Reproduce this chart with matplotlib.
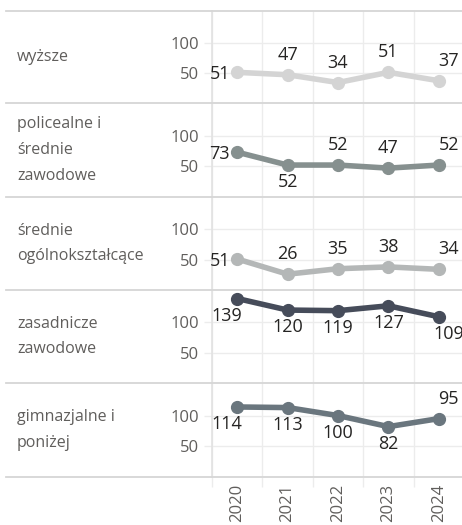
import matplotlib.pyplot as plt
from matplotlib.lines import Line2D
import numpy as np

plt.rcParams['font.family'] = ['Open Sans', 'DejaVu Sans']

years = ['2020', '2021', '2022', '2023', '2024']
categories = ['wyższe', 'policealne i\nśrednie\nzawodowe', 'średnie\nogólnokształcące',
              'zasadnicze\nzawodowe', 'gimnazjalne i\nponiżej']
wyzsze = [51, 47, 34, 51, 37]
policealne = [73, 52, 52, 47, 52]
srednie_ogolne = [51, 26, 35, 38, 34]
zasadnicze = [139, 120, 119, 127, 109]
gimnazjalne = [114, 113, 100, 82, 95]
series = [wyzsze, policealne, srednie_ogolne, zasadnicze, gimnazjalne]

# where each value label goes: L = left, A = above, B = below
label_pos = [['L', 'A', 'A', 'A', 'A'],
             ['L', 'B', 'A', 'A', 'A'],
             ['L', 'A', 'A', 'A', 'A'],
             ['B', 'B', 'B', 'B', 'B'],
             ['B', 'B', 'B', 'B', 'A']]
colors = ['#d4d4d4', '#86908f', '#b4b7b7', '#464c5a', '#6a767e']

W, H = 462, 525
fig = plt.figure(figsize=(W / 100, H / 100), dpi=100)

tops = [11, 103, 197, 290, 383]
bottoms = [103, 197, 290, 383, 477]
x0, x1 = 212, 464
grid_c = '#ececec'
x = np.arange(len(years))

for i, vals in enumerate(series):
    ax = fig.add_axes([x0 / W, 1 - bottoms[i] / H, (x1 - x0) / W, (bottoms[i] - tops[i]) / H])
    ax.patch.set_visible(False)
    ax.set_xlim(-0.5, 4.5)
    ax.set_ylim(0, 153)
    for s in ['top', 'right', 'bottom']:
        ax.spines[s].set_visible(False)
    ax.spines['left'].set_color('#e2e2e2')
    ax.spines['left'].set_linewidth(1.2)

    ax.set_yticks([50, 100])
    ax.tick_params(axis='y', length=6, width=1, color=grid_c, pad=3.5,
                   labelsize=12, labelcolor='#605e5c')
    ax.set_xticks(np.arange(-0.5, 5, 1), minor=True)
    ax.grid(axis='y', color=grid_c, linewidth=1)
    ax.grid(axis='x', which='minor', color=grid_c, linewidth=1)
    ax.set_axisbelow(True)

    if i < 4:
        ax.set_xticks([])
        ax.tick_params(axis='x', which='minor', length=0)
    else:
        ax.set_xticks(x)
        ax.set_xticklabels(years, rotation=90, fontsize=12, color='#605e5c')
        ax.tick_params(axis='x', which='major', length=0, pad=5)
        ax.tick_params(axis='x', which='minor', length=7, width=1, color=grid_c)

    ax.plot(x, vals, color=colors[i], linewidth=4, marker='o', markersize=8.5,
            solid_capstyle='round', clip_on=False, zorder=3)

    for j, v in enumerate(vals):
        p = label_pos[i][j]
        dx = 0
        if j == 0:
            dx = -10
        elif j == len(vals) - 1:
            dx = 10
        if p == 'L':
            ax.annotate(str(v), (j, v), xytext=(-7, 0), textcoords='offset pixels',
                        ha='right', va='center_baseline', fontsize=13, color='#252423',
                        annotation_clip=False)
        elif p == 'A':
            ax.annotate(str(v), (j, v), xytext=(dx, 15), textcoords='offset pixels',
                        ha='center', va='baseline', fontsize=13, color='#252423',
                        annotation_clip=False)
        else:
            ax.annotate(str(v), (j, v), xytext=(dx, -22), textcoords='offset pixels',
                        ha='center', va='baseline', fontsize=13, color='#252423',
                        annotation_clip=False)

    fig.text(17 / W, 1 - (tops[i] + bottoms[i]) / 2 / H, categories[i], ha='left',
             va='center', fontsize=11.5, color='#605e5c', linespacing=1.8)

# panel separators
for y in [11] + bottoms:
    fig.add_artist(Line2D([6 / W, 1], [1 - y / H, 1 - y / H], color='#d6d6d6',
                          linewidth=1.3, transform=fig.transFigure))

fig.savefig('out.png', dpi=100)
